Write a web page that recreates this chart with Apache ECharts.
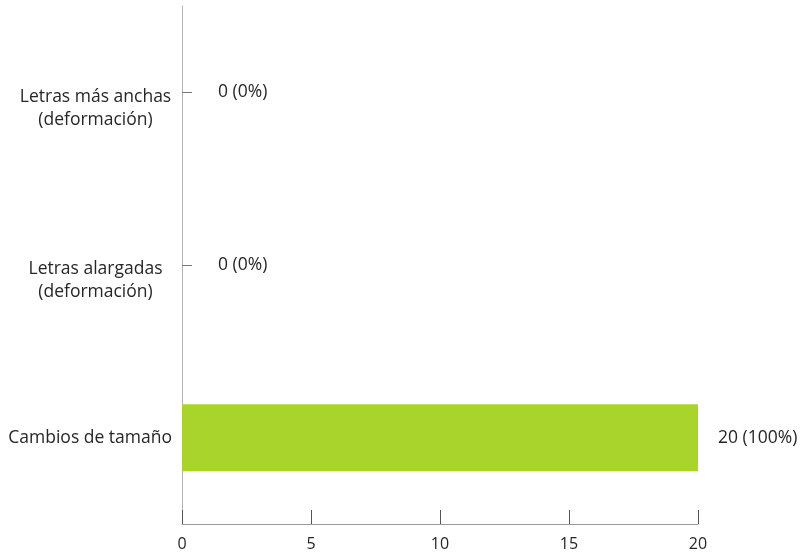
<!DOCTYPE html>
<html>
<head>
<meta charset="utf-8">
<style>
  html, body { margin: 0; padding: 0; background: #ffffff; }
  #chart { width: 801px; height: 558px; }
</style>
<script src="https://cdn.jsdelivr.net/npm/echarts@6/dist/echarts.min.js"></script>
</head>
<body>
<div id="chart"></div>
<script>
// Categories from bottom to top, as drawn on the vertical axis
const categories = ['Cambios de tamaño', 'Letras alargadas\n(deformación)', 'Letras más anchas\n(deformación)'];
const counts = [20, 0, 0];
const percents = [100, 0, 0];
const xTicks = [0, 5, 10, 15, 20];

const FONT = '"Open Sans", "Noto Sans", sans-serif';
const SIZE = 17.5;
const TEXT = '#262626';
const AXIS = '#b4b0b8';

const chart = echarts.init(document.getElementById('chart'));

chart.setOption({
  animation: false,
  backgroundColor: '#ffffff',
  grid: { left: 182, right: 103, top: 6, bottom: 34, containLabel: false },
  xAxis: {
    type: 'value',
    min: xTicks[0],
    max: xTicks[xTicks.length - 1],
    interval: xTicks[1] - xTicks[0],
    axisLine: { show: true, lineStyle: { color: '#999', width: 1 } },
    axisTick: { show: true, inside: true, length: 14, lineStyle: { color: '#555', width: 1 } },
    splitLine: { show: false },
    axisLabel: { color: TEXT, fontFamily: FONT, fontSize: 16, margin: 12 }
  },
  yAxis: {
    type: 'category',
    data: categories,
    axisLine: { show: true, lineStyle: { color: AXIS, width: 1 } },
    axisTick: { show: true, inside: true, alignWithLabel: true, length: 10, lineStyle: { color: '#777', width: 1 } },
    splitLine: { show: false },
    axisLabel: {
      margin: 10,
      color: TEXT,
      fontFamily: FONT,
      fontSize: SIZE,
      formatter: function (v) {
        const lines = v.split('\n');
        if (lines.length === 1) return '{one|' + v + '}';
        return '{gap| }\n' + lines.map(l => '{two|' + l + '}').join('\n');
      },
      rich: {
        one: { color: TEXT, fontFamily: FONT, fontSize: SIZE, lineHeight: 24 },
        two: { color: TEXT, fontFamily: FONT, fontSize: SIZE, lineHeight: 23, width: 153, align: 'center' },
        gap: { fontSize: 6, lineHeight: 32 }
      }
    }
  },
  series: [{
    type: 'bar',
    data: counts.map((c, i) => ({
      value: c,
      label: { distance: c === 0 ? 36 : 20 }
    })),
    barWidth: 67,
    itemStyle: { color: '#a8d42c' },
    label: {
      show: true,
      position: 'right',
      color: TEXT,
      fontFamily: FONT,
      fontSize: SIZE,
      formatter: function (p) {
        return counts[p.dataIndex] + ' (' + percents[p.dataIndex] + '%)';
      }
    }
  }]
});
</script>
</body>
</html>
